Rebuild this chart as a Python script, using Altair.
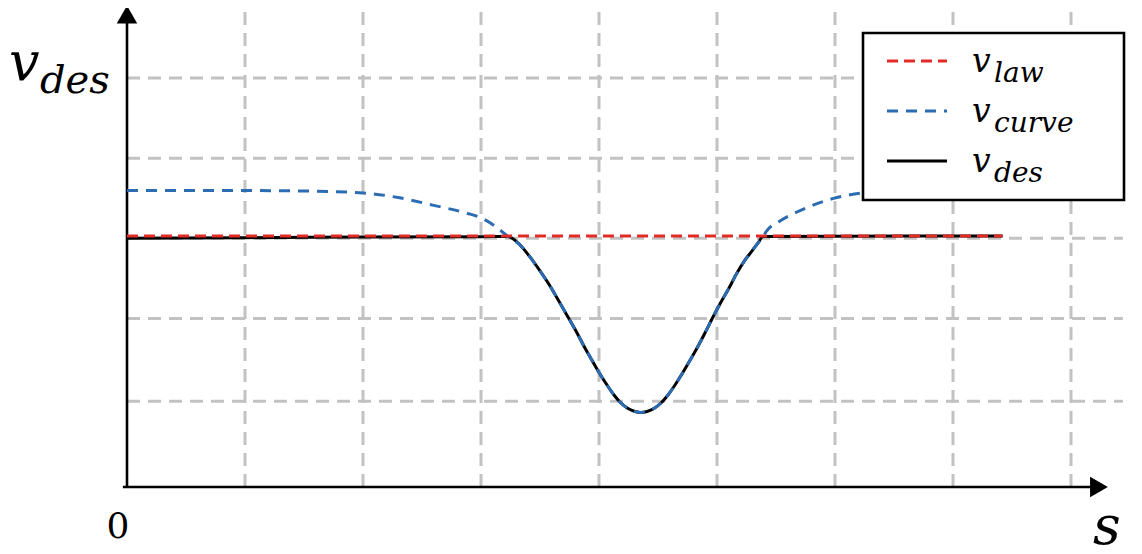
import altair as alt
import pandas as pd

# ---------------- data (s along x, v along y) ----------------
grid_s = [1, 2, 3, 4, 5, 6, 7, 8]
grid_v = [1.06, 2.08, 3.07, 4.06, 5.05]

law_s = [0.0, 7.42]
law_v = [3.10, 3.10]

dip_s = [3.229, 3.331, 3.415, 3.500, 3.585, 3.669, 3.737, 3.814, 3.881, 3.949, 4.008,
         4.068, 4.127, 4.186, 4.246, 4.305, 4.356, 4.407, 4.466, 4.525, 4.585, 4.644,
         4.703, 4.763, 4.831, 4.898, 4.966, 5.034, 5.102, 5.169, 5.237, 5.297, 5.347, 5.390]
dip_v = [3.093, 2.988, 2.840, 2.667, 2.481, 2.272, 2.099, 1.901, 1.716, 1.543, 1.395,
         1.259, 1.136, 1.037, 0.969, 0.932, 0.920, 0.932, 0.969, 1.037, 1.136, 1.259,
         1.395, 1.543, 1.716, 1.901, 2.099, 2.284, 2.457, 2.642, 2.802, 2.914, 3.012, 3.093]

des_s = [0.0, 0.99, 2.0, 3.0] + dip_s + [7.42]
des_v = [3.07, 3.078, 3.085, 3.09] + dip_v + [3.10]

curve_s = [0.0, 0.99, 1.47, 2.0, 2.31, 2.59, 2.88, 2.99, 3.12] + dip_s + [5.42, 5.53, 5.70, 5.98, 6.24, 6.38]
curve_v = [3.66, 3.66, 3.655, 3.63, 3.57, 3.48, 3.38, 3.33, 3.22] + dip_v + [3.16, 3.28, 3.41, 3.56, 3.63, 3.64]

legend_main = ["v", "v", "v"]
legend_sub = ["law", "curve", "des"]

# ---------------- layout ----------------
W, H = 1126, 532
PAD_TOP = 6
OX, OY = 127, 487          # page pixel of the origin
PX_S, PX_V = 118, 81       # pixels per unit
S_MIN = (8 - OX) / PX_S
S_MAX = S_MIN + W / PX_S
V_MAX = (OY - (8 + PAD_TOP)) / PX_V
V_MIN = V_MAX - H / PX_V

xs = alt.Scale(domain=[S_MIN, S_MAX], nice=False, zero=False)
ys = alt.Scale(domain=[V_MIN, V_MAX], nice=False, zero=False)

RED = "#e12b27"
BLUE = "#2b6cb2"
GRID = "#c2c2c2"
SERIF = "DejaVu Serif"

one = alt.Data(values=[{}])

# grid
vgrid = pd.DataFrame({"s": grid_s, "v0": 0.0, "v1": 5.93})
hgrid = pd.DataFrame({"v": grid_v, "s0": 0.0, "s1": 8.44})

vg = alt.Chart(vgrid).mark_rule(color=GRID, strokeWidth=3, strokeDash=[13, 8]).encode(
    x=alt.X("s:Q", scale=xs, axis=None),
    y=alt.Y("v0:Q", scale=ys, axis=None),
    y2="v1:Q",
)
hg = alt.Chart(hgrid).mark_rule(color=GRID, strokeWidth=3, strokeDash=[13, 8]).encode(
    y=alt.Y("v:Q", scale=ys, axis=None),
    x=alt.X("s0:Q", scale=xs, axis=None),
    x2="s1:Q",
)

# axes
axes_df = pd.DataFrame({"s0": [-0.035, 0.0], "s1": [8.2, 0.0], "v0": [0.0, -0.01], "v1": [0.0, 5.74]})
ax = alt.Chart(axes_df).mark_rule(color="black", strokeWidth=2.6).encode(
    x=alt.X("s0:Q", scale=xs, axis=None),
    x2="s1:Q",
    y=alt.Y("v0:Q", scale=ys, axis=None),
    y2="v1:Q",
)
arr_up = alt.Chart(pd.DataFrame({"s": [0.0], "v": [5.833]})).mark_point(
    shape="triangle-up", filled=True, color="black", size=420, opacity=1
).encode(x=alt.X("s:Q", scale=xs, axis=None), y=alt.Y("v:Q", scale=ys, axis=None))
arr_right = alt.Chart(pd.DataFrame({"s": [8.237], "v": [0.0]})).mark_point(
    shape="triangle-right", filled=True, color="black", size=420, opacity=1
).encode(x=alt.X("s:Q", scale=xs, axis=None), y=alt.Y("v:Q", scale=ys, axis=None))

# series
des = alt.Chart(pd.DataFrame({"s": des_s, "v": des_v})).mark_line(
    color="black", strokeWidth=3, interpolate="monotone"
).encode(x=alt.X("s:Q", scale=xs, axis=None), y=alt.Y("v:Q", scale=ys, axis=None))
curve = alt.Chart(pd.DataFrame({"s": curve_s, "v": curve_v})).mark_line(
    color=BLUE, strokeWidth=3, strokeDash=[11, 8], interpolate="monotone"
).encode(x=alt.X("s:Q", scale=xs, axis=None), y=alt.Y("v:Q", scale=ys, axis=None))
law = alt.Chart(pd.DataFrame({"s": law_s, "v": law_v})).mark_line(
    color=RED, strokeWidth=3, strokeDash=[11, 6]
).encode(x=alt.X("s:Q", scale=xs, axis=None), y=alt.Y("v:Q", scale=ys, axis=None))


def txt(s, x, y, size, italic=True, align="left"):
    return alt.Chart(one).mark_text(
        text=s, font=SERIF, fontSize=size, fontStyle="italic" if italic else "normal",
        align=align, baseline="alphabetic", color="black",
    ).encode(x=alt.value(x), y=alt.value(y))


# legend (pixel positions inside the plot area)
box = alt.Chart(one).mark_rect(fill="white", stroke="black", strokeWidth=2.6).encode(
    x=alt.value(855), x2=alt.value(1116), y=alt.value(19), y2=alt.value(186)
)
legend_layers = [box]
styles = [dict(color=RED, strokeDash=[11, 6]), dict(color=BLUE, strokeDash=[11, 8]), dict(color="black")]
for i, (m, sub) in enumerate(zip(legend_main, legend_sub)):
    yl = 47 + 50 * i
    legend_layers.append(
        alt.Chart(one).mark_rule(strokeWidth=3, **styles[i]).encode(
            x=alt.value(879), x2=alt.value(939), y=alt.value(yl)
        )
    )
    legend_layers.append(txt(m, 964, yl + 11, 33))
    legend_layers.append(txt(sub, 986, yl + 21, 28))

labels = [
    txt("v", 1, 66, 54),
    txt("des", 32, 79, 40),
    txt("0", 110, 524, 36, italic=False, align="center"),
    txt("s", 1085, 530, 54),
]

chart = alt.layer(
    vg, hg, ax, arr_up, arr_right, des, curve, law, *legend_layers, *labels
).properties(
    width=W, height=H,
    padding={"left": 0, "top": PAD_TOP, "right": 0, "bottom": 0},
    autosize="none",
).configure_view(stroke=None)

chart.save("out.html", embed_options={"renderer": "svg", "actions": False})
